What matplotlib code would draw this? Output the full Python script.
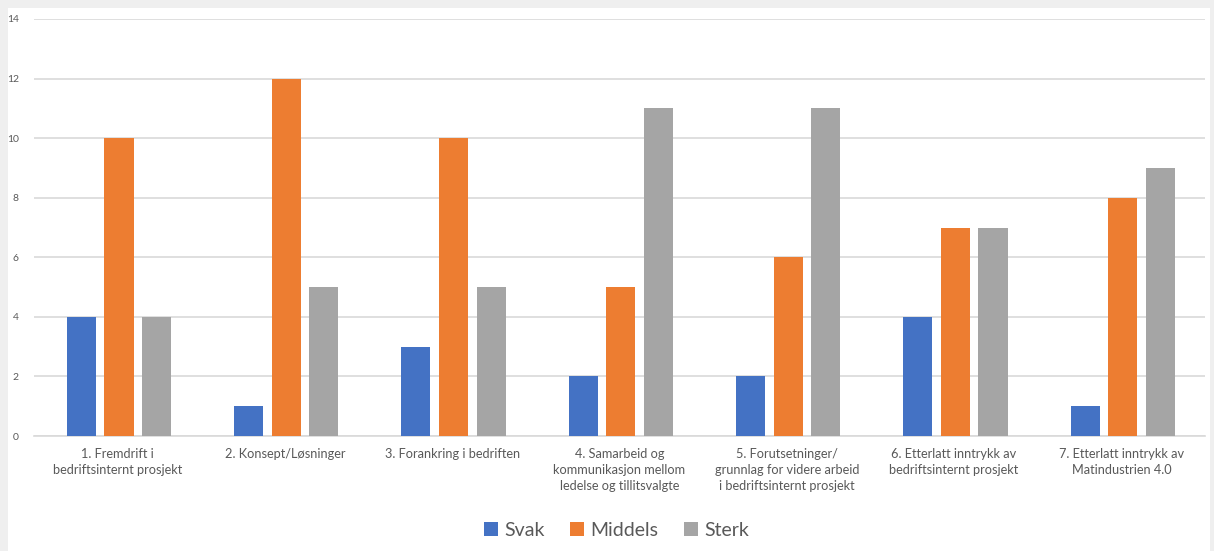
import matplotlib.pyplot as plt
import matplotlib.patches as mpatches
import numpy as np

plt.rcParams['font.family'] = ['Lato', 'DejaVu Sans']

# survey answers per topic
categories = [
    "1. Fremdrift i\nbedriftsinternt prosjekt",
    "2. Konsept/Løsninger",
    "3. Forankring i bedriften",
    "4. Samarbeid og\nkommunikasjon mellom\nledelse og tillitsvalgte",
    "5. Forutsetninger/\ngrunnlag for videre arbeid\ni bedriftsinternt prosjekt",
    "6. Etterlatt inntrykk av\nbedriftsinternt prosjekt",
    "7. Etterlatt inntrykk av\nMatindustrien 4.0",
]
svak = [4, 1, 3, 2, 2, 4, 1]
middels = [10, 12, 10, 5, 6, 7, 8]
sterk = [4, 5, 5, 11, 11, 7, 9]
series_names = ["Svak", "Middels", "Sterk"]
colors = ["#4472C4", "#ED7D31", "#A5A5A5"]
y_ticks = [0, 2, 4, 6, 8, 10, 12, 14]

fig = plt.figure(figsize=(12.14, 5.51), dpi=100)
fig.patch.set_facecolor("#efefef")
# white chart area inside the grey frame
fig.patches.append(mpatches.Rectangle((8 / 1214, 0), 1202 / 1214, 1 - 8 / 551,
                                      transform=fig.transFigure, facecolor="white",
                                      edgecolor="none", zorder=-1))

ax = fig.add_axes([34 / 1214, 1 - 436 / 551, 1171 / 1214, 417 / 551])
ax.set_zorder(1)
ax.set_facecolor("none")

x = np.arange(len(categories))
w = 0.174
step = 0.225
for i, (vals, name, c) in enumerate(zip([svak, middels, sterk], series_names, colors)):
    ax.bar(x + (i - 1) * step + 0.008, vals, width=w, color=c, label=name, zorder=3)

ax.set_xlim(-0.5, len(categories) - 0.5)
ax.set_ylim(0, 14)
ax.set_yticks(y_ticks)
ax.set_xticks(x)
ax.set_xticklabels(categories, fontsize=9.2, color="#595959", linespacing=1.35)
ax.tick_params(axis="y", labelsize=7.5, colors="#595959", length=0, pad=11)
ax.tick_params(axis="x", length=0, pad=9)
ax.grid(axis="y", color="#d9d9d9", linewidth=1.2, zorder=0)
for s in ["top", "right", "left"]:
    ax.spines[s].set_visible(False)
ax.spines["bottom"].set_color("#d9d9d9")
ax.spines["bottom"].set_linewidth(1.2)

leg = fig.legend(loc="center", bbox_to_anchor=(0.508, 1 - 530 / 551), ncol=3, frameon=False,
                 fontsize=14, labelcolor="#595959", handlelength=0.7, handleheight=0.7,
                 handletextpad=0.35, columnspacing=1.3)
leg.set_zorder(2)

fig.savefig("out.png", dpi=100, facecolor=fig.get_facecolor())
